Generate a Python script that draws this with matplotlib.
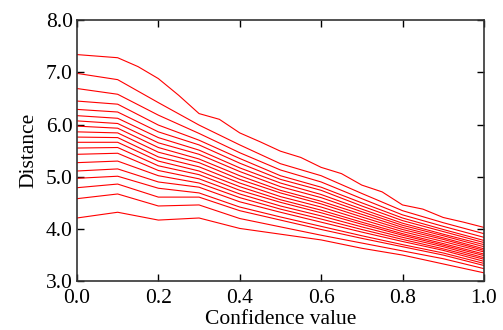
import matplotlib
matplotlib.use("Agg")
import matplotlib.pyplot as plt
from matplotlib.ticker import FormatStrFormatter

# confidence nodes and the distance of every curve there (bottom curve first)
conf = [0.0, 0.1, 0.2, 0.3, 0.4, 0.5, 0.6, 0.7, 0.8, 0.9, 1.0]
dist_table = [
    [4.21, 4.58, 4.79, 4.97, 5.11, 5.27, 5.43, 5.55, 5.66, 5.76, 5.86, 5.97, 6.07, 6.17, 6.29, 6.45, 6.69, 6.98],
    [4.32, 4.67, 4.86, 5.01, 5.15, 5.30, 5.45, 5.56, 5.66, 5.75, 5.84, 5.93, 6.02, 6.12, 6.24, 6.39, 6.58, 6.86],
    [4.17, 4.44, 4.61, 4.78, 4.90, 5.02, 5.12, 5.21, 5.30, 5.38, 5.47, 5.56, 5.65, 5.75, 5.86, 5.99, 6.18, 6.42],
    [4.21, 4.46, 4.61, 4.69, 4.80, 4.88, 4.96, 5.04, 5.11, 5.19, 5.27, 5.34, 5.43, 5.51, 5.61, 5.70, 5.83, 5.99],
    [4.01, 4.20, 4.35, 4.42, 4.52, 4.60, 4.67, 4.74, 4.81, 4.88, 4.95, 5.02, 5.10, 5.17, 5.26, 5.35, 5.46, 5.61],
    [3.90, 4.04, 4.17, 4.23, 4.32, 4.38, 4.44, 4.51, 4.56, 4.62, 4.69, 4.74, 4.81, 4.88, 4.95, 5.02, 5.13, 5.25],
    [3.79, 3.88, 3.99, 4.05, 4.13, 4.19, 4.25, 4.31, 4.36, 4.42, 4.48, 4.53, 4.60, 4.66, 4.74, 4.80, 4.90, 5.02],
    [3.63, 3.73, 3.82, 3.87, 3.94, 3.99, 4.04, 4.09, 4.13, 4.18, 4.23, 4.28, 4.33, 4.38, 4.44, 4.50, 4.58, 4.68],
    [3.50, 3.58, 3.66, 3.70, 3.76, 3.80, 3.84, 3.88, 3.91, 3.95, 3.99, 4.03, 4.07, 4.11, 4.16, 4.21, 4.27, 4.35],
    [3.33, 3.43, 3.50, 3.54, 3.59, 3.62, 3.66, 3.69, 3.72, 3.76, 3.80, 3.83, 3.87, 3.90, 3.95, 3.99, 4.05, 4.12],
    [3.16, 3.24, 3.30, 3.34, 3.38, 3.42, 3.45, 3.49, 3.52, 3.56, 3.59, 3.62, 3.66, 3.70, 3.74, 3.78, 3.84, 3.91],
]

# the highest curve, read on a finer grid
top_conf = [0.0, 0.05, 0.1, 0.15, 0.2, 0.25, 0.3, 0.35, 0.4, 0.45, 0.5,
            0.55, 0.6, 0.65, 0.7, 0.75, 0.8, 0.85, 0.9, 0.95, 1.0]
top_dist = [7.34, 7.31, 7.28, 7.11, 6.88, 6.56, 6.21, 6.10, 5.84, 5.67, 5.49,
            5.37, 5.18, 5.06, 4.84, 4.71, 4.46, 4.38, 4.22, 4.13, 4.03]

xticks = [0.0, 0.2, 0.4, 0.6, 0.8, 1.0]
yticks = [3.0, 4.0, 5.0, 6.0, 7.0, 8.0]

plt.rcParams['font.family'] = ['Liberation Serif', 'DejaVu Serif']

fig = plt.figure(figsize=(5.03, 3.30), dpi=100)
ax = fig.add_axes([0.153, 0.148, 0.809, 0.791])

n_lines = len(dist_table[0])
for k in range(n_lines):
    ax.plot(conf, [row[k] for row in dist_table], color='red', lw=0.8)
ax.plot(top_conf, top_dist, color='red', lw=0.8)

ax.set_xlim(0, 1)
ax.set_ylim(3, 8)
ax.set_xticks(xticks)
ax.set_yticks(yticks)
ax.xaxis.set_major_formatter(FormatStrFormatter('%.1f'))
ax.yaxis.set_major_formatter(FormatStrFormatter('%.1f'))
ax.tick_params(direction='in', top=True, right=True, length=5, width=1,
               labelsize=15.5)
ax.tick_params(axis='x', pad=6)
ax.tick_params(axis='y', pad=3)
for sp in ax.spines.values():
    sp.set_linewidth(1.2)
    sp.set_color('#333333')

ax.set_xlabel('Confidence value', fontsize=15.5, labelpad=1)
ax.set_ylabel('Distance', fontsize=15.5, labelpad=5)

fig.savefig('out.png', dpi=100)
